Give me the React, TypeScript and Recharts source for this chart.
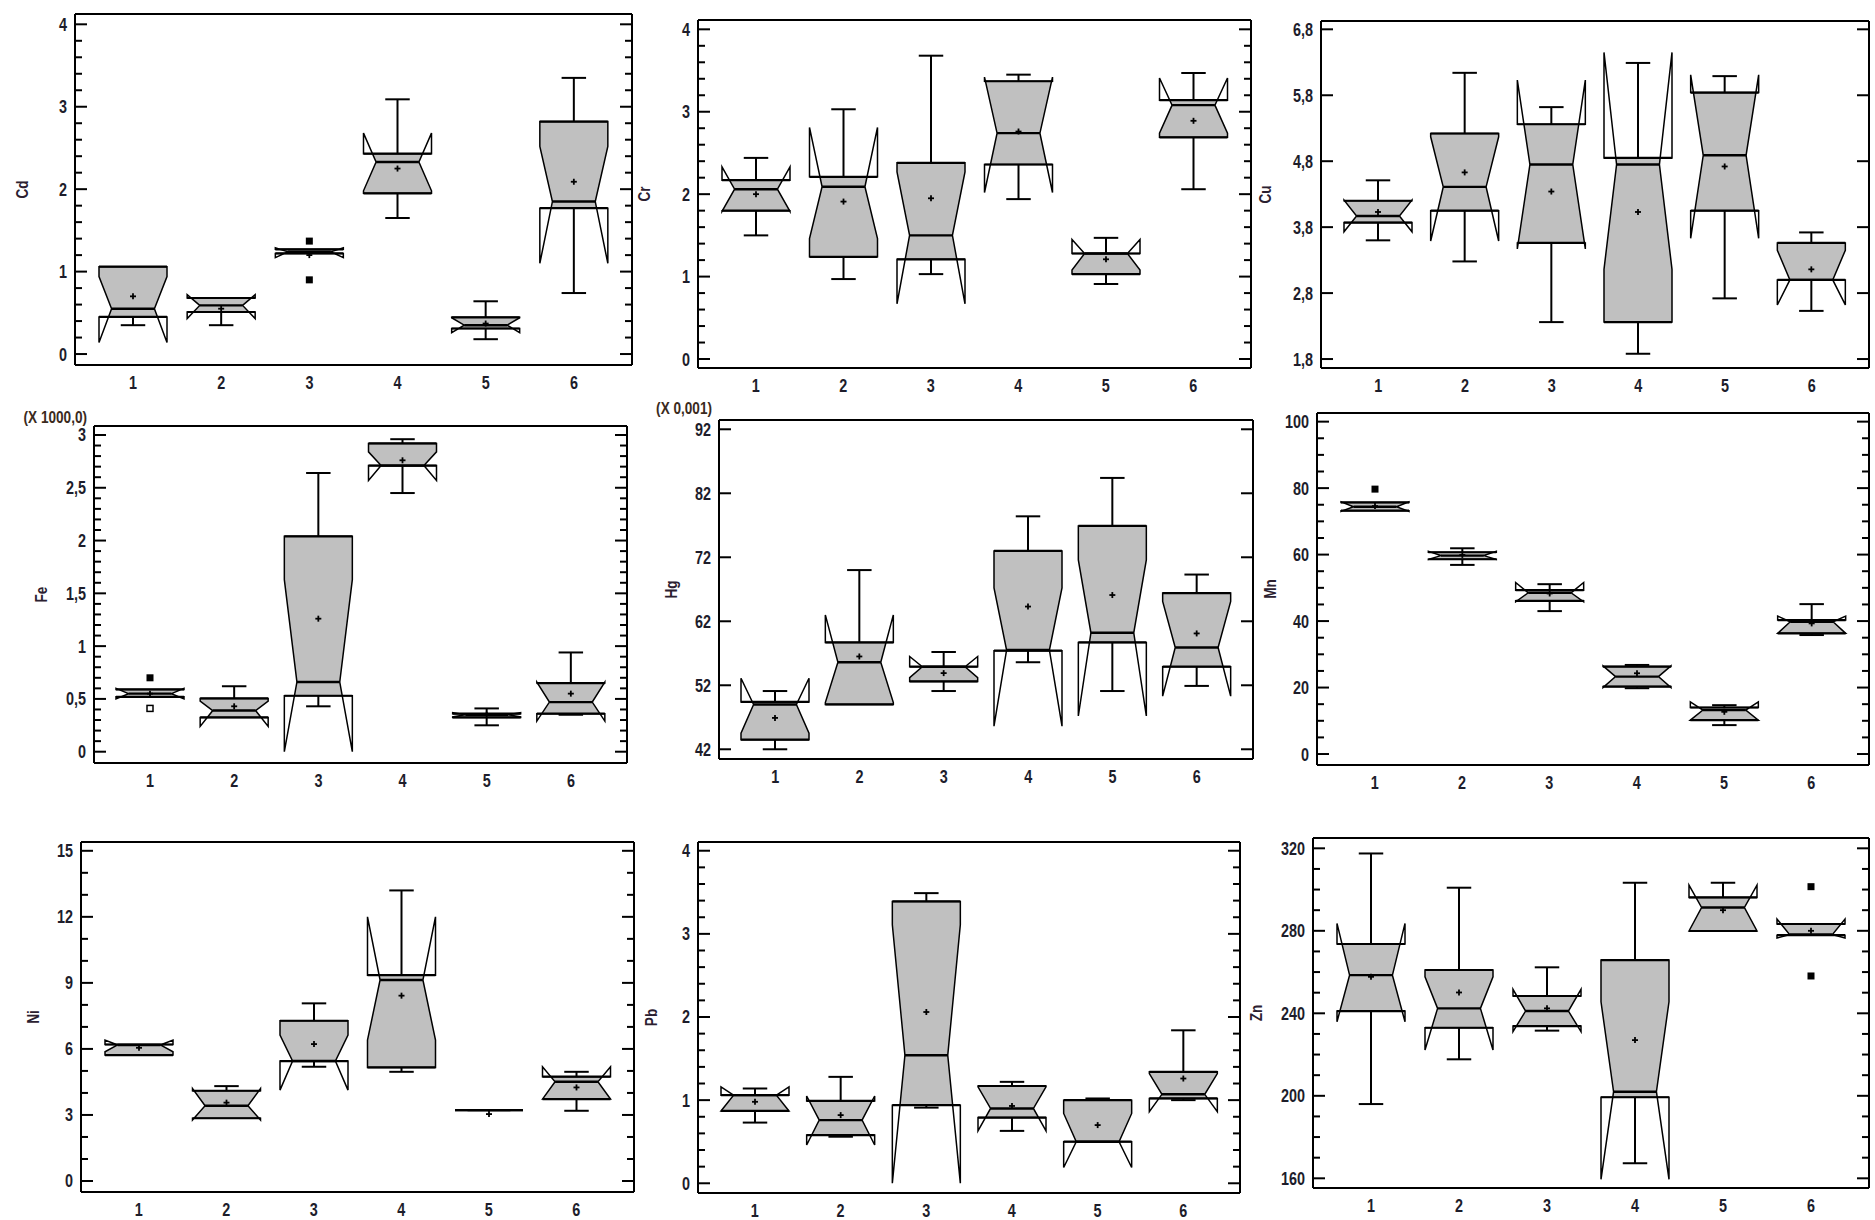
import React from 'react'
import { ComposedChart, Bar, XAxis, YAxis } from 'recharts'

const groups = ['1', '2', '3', '4', '5', '6']

// each row: [lower whisker, Q1, median, Q3, upper whisker, notch low, notch high, mean]
const cdBoxes = [
  [0.35, 0.45, 0.55, 1.06, 1.06, 0.14, 0.94, 0.7],
  [0.35, 0.51, 0.59, 0.68, 0.68, 0.43, 0.72, 0.55],
  [1.22, 1.22, 1.24, 1.27, 1.27, 1.17, 1.29, 1.2],
  [1.65, 1.95, 2.33, 2.43, 3.09, 1.98, 2.68, 2.25],
  [0.18, 0.31, 0.35, 0.445, 0.64, 0.26, 0.44, 0.37],
  [0.74, 1.77, 1.85, 2.82, 3.35, 1.1, 2.52, 2.09],
]
const cdOutliers = [[], [], [1.37, 0.9], [], [], []]

const crBoxes = [
  [1.5, 1.8, 2.06, 2.17, 2.44, 1.79, 2.33, 2.0],
  [0.97, 1.24, 2.09, 2.21, 3.03, 1.46, 2.81, 1.91],
  [1.03, 1.21, 1.5, 2.38, 3.68, 0.67, 2.27, 1.95],
  [1.94, 2.36, 2.74, 3.37, 3.45, 2.02, 3.42, 2.76],
  [0.91, 1.03, 1.28, 1.28, 1.47, 1.08, 1.45, 1.21],
  [2.06, 2.69, 3.08, 3.14, 3.47, 2.74, 3.41, 2.89],
]

const cuBoxes = [
  [3.6, 3.87, 3.97, 4.2, 4.51, 3.73, 4.21, 4.03],
  [3.28, 4.05, 4.41, 5.22, 6.14, 3.59, 5.17, 4.63],
  [2.36, 3.56, 4.75, 5.36, 5.62, 3.47, 6.03, 4.34],
  [1.88, 2.36, 4.75, 4.85, 6.29, 3.16, 6.45, 4.03],
  [2.72, 4.05, 4.89, 5.84, 6.09, 3.63, 6.11, 4.72],
  [2.53, 3.0, 3.0, 3.56, 3.72, 2.62, 3.45, 3.16],
]

const feBoxes = [
  [0.52, 0.52, 0.55, 0.59, 0.59, 0.5, 0.6, 0.55],
  [0.325, 0.325, 0.39, 0.505, 0.62, 0.24, 0.48, 0.43],
  [0.43, 0.53, 0.66, 2.04, 2.64, 0.0, 1.63, 1.26],
  [2.45, 2.71, 2.71, 2.92, 2.96, 2.57, 2.84, 2.76],
  [0.25, 0.325, 0.35, 0.36, 0.41, 0.33, 0.37, 0.35],
  [0.35, 0.36, 0.47, 0.65, 0.94, 0.29, 0.66, 0.55],
]
const feOutliers = [[0.7], [], [], [], [], []]
const feFarOutliers = [[0.41], [], [], [], [], []]

const hgBoxes = [
  [42.0, 43.5, 49.0, 49.4, 51.1, 44.5, 53.1, 46.9],
  [49.0, 49.0, 55.6, 58.7, 70.0, 49.3, 63.0, 56.5],
  [51.1, 52.6, 54.9, 54.9, 57.2, 53.2, 56.5, 53.9],
  [55.6, 57.4, 57.5, 73.0, 78.4, 45.6, 67.2, 64.3],
  [51.1, 58.7, 60.2, 76.9, 84.4, 47.2, 71.6, 66.1],
  [51.9, 54.9, 57.9, 66.4, 69.3, 50.3, 65.1, 60.1],
]

const mnBoxes = [
  [73.2, 73.2, 74.4, 75.7, 75.7, 73.0, 75.9, 74.6],
  [56.9, 58.6, 59.7, 60.7, 61.9, 58.5, 61.0, 59.9],
  [43.0, 46.1, 48.5, 49.3, 51.1, 45.8, 51.6, 48.3],
  [19.8, 20.3, 23.3, 26.3, 26.8, 20.0, 26.5, 24.3],
  [8.7, 10.2, 13.2, 14.0, 14.7, 10.2, 15.7, 12.7],
  [35.8, 36.3, 39.8, 40.3, 45.1, 36.3, 41.5, 39.3],
]
const mnOutliers = [[79.7], [], [], [], [], []]

const niBoxes = [
  [5.72, 5.72, 6.18, 6.2, 6.2, 5.87, 6.4, 6.05],
  [2.85, 2.85, 3.42, 4.1, 4.31, 2.77, 4.2, 3.56],
  [5.19, 5.45, 5.45, 7.28, 8.07, 4.13, 6.63, 6.22],
  [4.96, 5.16, 9.13, 9.35, 13.2, 6.4, 12.0, 8.42],
  [3.22, 3.22, 3.22, 3.22, 3.22, 3.22, 3.22, 3.04],
  [3.19, 3.72, 4.51, 4.74, 4.96, 3.72, 5.19, 4.25],
]

const pbBoxes = [
  [0.73, 0.87, 1.06, 1.06, 1.14, 0.87, 1.16, 0.98],
  [0.56, 0.58, 0.76, 0.99, 1.28, 0.46, 1.05, 0.82],
  [0.91, 0.94, 1.54, 3.39, 3.49, 0.0, 3.11, 2.06],
  [0.63, 0.79, 0.9, 1.17, 1.22, 0.63, 1.16, 0.93],
  [0.5, 0.5, 0.5, 1.0, 1.02, 0.19, 0.84, 0.7],
  [1.0, 1.02, 1.07, 1.34, 1.84, 0.86, 1.32, 1.26],
]

const znBoxes = [
  [196.0, 241.1, 258.5, 273.6, 317.5, 235.9, 283.6, 257.7],
  [217.7, 233.0, 242.4, 261.0, 300.9, 222.2, 257.7, 250.1],
  [231.6, 233.8, 241.1, 248.4, 262.3, 231.1, 251.6, 242.4],
  [167.3, 199.3, 202.0, 265.8, 303.3, 159.5, 245.6, 227.0],
  [279.9, 279.9, 291.3, 296.2, 303.3, 279.9, 302.2, 290.0],
  [277.9, 277.9, 278.2, 283.3, 283.3, 276.5, 285.7, 280.0],
]
const znOutliers = [[], [], [], [], [], [301.4, 258.1]]

const cdTicks = [0, 1, 2, 3, 4]
const crTicks = [0, 1, 2, 3, 4]
const cuTicks = [1.8, 2.8, 3.8, 4.8, 5.8, 6.8]
const feTicks = [0, 0.5, 1, 1.5, 2, 2.5, 3]
const hgTicks = [42, 52, 62, 72, 82, 92]
const mnTicks = [0, 20, 40, 60, 80, 100]
const niTicks = [0, 3, 6, 9, 12, 15]
const pbTicks = [0, 1, 2, 3, 4]
const znTicks = [160, 200, 240, 280, 320]

const none = [[], [], [], [], [], []]

// frame = plot rectangle [left, top, right, bottom] on the page
const panels = [
  { name: 'Cd', boxes: cdBoxes, outliers: cdOutliers, ticks: cdTicks, sub: 5, domain: [-0.133, 4.125], frame: [75, 14, 632, 365], gap: 53 },
  { name: 'Cr', boxes: crBoxes, outliers: none, ticks: crTicks, sub: 5, domain: [-0.109, 4.113], frame: [698, 20, 1251, 368], gap: 54 },
  { name: 'Cu', boxes: cuBoxes, outliers: none, ticks: cuTicks, sub: 1, domain: [1.664, 6.926], frame: [1321, 21, 1869, 368], gap: 56 },
  { name: 'Fe', boxes: feBoxes, outliers: feOutliers, far: feFarOutliers, ticks: feTicks, sub: 5, domain: [-0.107, 3.085], frame: [94, 426, 627, 763], gap: 53, scale: '(X 1000,0)', scaleDy: 3 },
  { name: 'Hg', boxes: hgBoxes, outliers: none, ticks: hgTicks, sub: 1, domain: [40.48, 93.45], frame: [719, 420, 1253, 759], gap: 48, scale: '(X 0,001)', scaleDy: 6 },
  { name: 'Mn', boxes: mnBoxes, outliers: mnOutliers, ticks: mnTicks, sub: 4, domain: [-3.3, 102.6], frame: [1317, 413, 1869, 765], gap: 47 },
  { name: 'Ni', boxes: niBoxes, outliers: none, ticks: niTicks, sub: 3, domain: [-0.5, 15.4], frame: [81, 842, 634, 1192], gap: 48 },
  { name: 'Pb', boxes: pbBoxes, outliers: none, ticks: pbTicks, sub: 5, domain: [-0.117, 4.105], frame: [698, 842, 1240, 1193], gap: 47 },
  { name: 'Zn', boxes: znBoxes, outliers: znOutliers, ticks: znTicks, sub: 4, domain: [155.3, 325.0], frame: [1313, 838, 1869, 1188], gap: 57 },
]

const FONT = "'Liberation Sans', Arial, sans-serif"
const INK = '#1d1d2b'

const fmt = (v: number) => String(v).replace('.', ',')

const withMinors = (majors: number[], sub: number) => {
  const out: number[] = []
  majors.forEach((m, i) => {
    out.push(m)
    if (i < majors.length - 1) {
      for (let k = 1; k < sub; k++) out.push(+(m + ((majors[i + 1] - m) * k) / sub).toFixed(6))
    }
  })
  return out
}

const isMajor = (v: number, majors: number[]) => majors.some((m) => Math.abs(m - v) < 1e-6)

// condensed bold text, the reference uses a narrow face
const Narrow = ({ x, y, anchor, rotate, size, fill, children }: any) => (
  <text
    transform={`translate(${x} ${y})${rotate ? ` rotate(${rotate})` : ''} scale(0.8 1)`}
    x={0}
    y={0}
    dy="0.36em"
    textAnchor={anchor}
    fontFamily={FONT}
    fontWeight="bold"
    fontSize={size}
    fill={fill}
  >
    {children}
  </text>
)

const renderBox = (props: any) => {
  const { x, y, width, height, payload } = props
  const [lo, hi] = payload.range
  const py = (v: number) => y + (height * (hi - v)) / (hi - lo)
  const [low, q1, med, q3, high, nlo, nhi, mean] = payload.stats
  const cx = x + width / 2
  const W = width / 2
  const w = W * 0.63

  const hw = (v: number) => {
    if (v <= nlo || v >= nhi) return W
    if (v <= med) return w + ((W - w) * (med - v)) / (med - nlo)
    return w + ((W - w) * (v - med)) / (nhi - med)
  }
  const levels = [q1, nlo, med, nhi, q3].filter((v) => v >= q1 && v <= q3).sort((a, b) => a - b)
  const fillPts = [
    ...levels.map((v) => `${cx - hw(v)},${py(v)}`),
    ...levels.slice().reverse().map((v) => `${cx + hw(v)},${py(v)}`),
  ].join(' ')
  const outline = [
    [cx - W, q1], [cx - W, nlo], [cx - w, med], [cx - W, nhi], [cx - W, q3],
    [cx + W, q3], [cx + W, nhi], [cx + w, med], [cx + W, nlo], [cx + W, q1],
  ].map(([px, v]) => `${px},${py(v)}`).join(' ')
  const cap = W * 0.36

  return (
    <g>
      <polygon points={fillPts} fill="#c0c0c0" stroke="none" />
      <polygon points={outline} fill="none" stroke="#000" strokeWidth={1.5} />
      <line x1={cx - W} x2={cx + W} y1={py(q3)} y2={py(q3)} stroke="#000" strokeWidth={2.2} />
      <line x1={cx - W} x2={cx + W} y1={py(q1)} y2={py(q1)} stroke="#000" strokeWidth={2.2} />
      <line x1={cx - w} x2={cx + w} y1={py(med)} y2={py(med)} stroke="#000" strokeWidth={2.4} />
      {high > q3 && (
        <g stroke="#000" strokeWidth={2}>
          <line x1={cx} x2={cx} y1={py(q3)} y2={py(high)} />
          <line x1={cx - cap} x2={cx + cap} y1={py(high)} y2={py(high)} />
        </g>
      )}
      {low < q1 && (
        <g stroke="#000" strokeWidth={2}>
          <line x1={cx} x2={cx} y1={py(q1)} y2={py(low)} />
          <line x1={cx - cap} x2={cx + cap} y1={py(low)} y2={py(low)} />
        </g>
      )}
      <g stroke="#000" strokeWidth={1.8}>
        <line x1={cx - 3} x2={cx + 3} y1={py(mean)} y2={py(mean)} />
        <line x1={cx} x2={cx} y1={py(mean) - 3} y2={py(mean) + 3} />
      </g>
      {payload.outliers.map((v: number, i: number) => (
        <rect key={'o' + i} x={cx - 3.5} y={py(v) - 3.5} width={7} height={7} fill="#000" />
      ))}
      {payload.far.map((v: number, i: number) => (
        <rect key={'f' + i} x={cx - 3} y={py(v) - 3} width={6} height={6} fill="#fff" stroke="#000" strokeWidth={1.5} />
      ))}
    </g>
  )
}

const Panel = ({ cfg }: { cfg: any }) => {
  const [fl, ft, fr, fb] = cfg.frame
  const yw = 80
  const mt = 30
  const mr = 6
  const xh = 40
  const far = cfg.far || none
  const data = groups.map((g, i) => {
    const stats = cfg.boxes[i]
    const all = [...stats, ...cfg.outliers[i], ...far[i]]
    return {
      group: g,
      range: [Math.min(...all), Math.max(...all)],
      stats,
      outliers: cfg.outliers[i],
      far: far[i],
    }
  })
  const allTicks = withMinors(cfg.ticks, cfg.sub)
  const axisLine = { stroke: '#000', strokeWidth: 2 }

  const leftTick = (p: any) => {
    const v = p.payload.value
    const major = isMajor(v, cfg.ticks)
    return (
      <g>
        <line x1={p.x} x2={p.x + (major ? 12 : 7)} y1={p.y} y2={p.y} stroke="#000" strokeWidth={2} />
        {major && (
          <Narrow x={p.x - 8} y={p.y} anchor="end" size={18} fill={INK}>
            {fmt(v)}
          </Narrow>
        )}
      </g>
    )
  }
  const rightTick = (p: any) => {
    const major = isMajor(p.payload.value, cfg.ticks)
    return <line x1={p.x - (major ? 12 : 7)} x2={p.x} y1={p.y} y2={p.y} stroke="#000" strokeWidth={2} />
  }
  const bottomTick = (p: any) => (
    <Narrow x={p.x} y={p.y + 18} anchor="middle" size={18} fill={INK}>
      {p.payload.value}
    </Narrow>
  )
  const nameLabel = (p: any) => {
    const vb = p.viewBox
    const fx = vb.x + vb.width
    const lx = fx - cfg.gap
    const ly = vb.y + vb.height / 2
    return (
      <g>
        <Narrow x={lx} y={ly} anchor="middle" rotate={-90} size={17} fill="#2b2030">
          {cfg.name}
        </Narrow>
        {cfg.scale && (
          <Narrow x={fx - 7} y={vb.y - cfg.scaleDy - 6} anchor="end" size={17} fill="#3a2a20">
            {cfg.scale}
          </Narrow>
        )}
      </g>
    )
  }

  return (
    <div style={{ position: 'absolute', left: fl - yw, top: ft - mt - 1 }}>
      <ComposedChart
        width={fr - fl + yw + mr + 1}
        height={fb - ft + mt + 1 + xh}
        data={data}
        margin={{ top: mt, right: mr, bottom: 0, left: 0 }}
        barSize={68}
      >
        <XAxis dataKey="group" padding={{ left: 14, right: 14 }} height={xh} tickSize={0} tickMargin={0} tickLine={false} axisLine={axisLine} tick={bottomTick} interval={0} />
        <XAxis xAxisId="top" dataKey="group" orientation="top" height={1} tickSize={0} tickLine={false} axisLine={axisLine} tick={() => null} interval={0} />
        <YAxis
          type="number"
          domain={cfg.domain}
          allowDataOverflow
          ticks={allTicks}
          interval={0}
          width={yw}
          tickSize={0}
          tickMargin={0}
          tickLine={false}
          axisLine={axisLine}
          tick={leftTick}
          label={nameLabel}
        />
        <YAxis
          yAxisId="r"
          orientation="right"
          type="number"
          domain={cfg.domain}
          allowDataOverflow
          ticks={allTicks}
          interval={0}
          width={1}
          tickSize={0}
          tickMargin={0}
          tickLine={false}
          axisLine={axisLine}
          tick={rightTick}
        />
        <Bar dataKey="range" shape={renderBox} isAnimationActive={false} />
      </ComposedChart>
    </div>
  )
}

export default function App() {
  return (
    <div style={{ position: 'absolute', left: 0, top: 0, width: 1875, height: 1220, overflow: 'hidden', background: '#fff' }}>
      {panels.map((cfg) => (
        <Panel key={cfg.name} cfg={cfg} />
      ))}
    </div>
  )
}
